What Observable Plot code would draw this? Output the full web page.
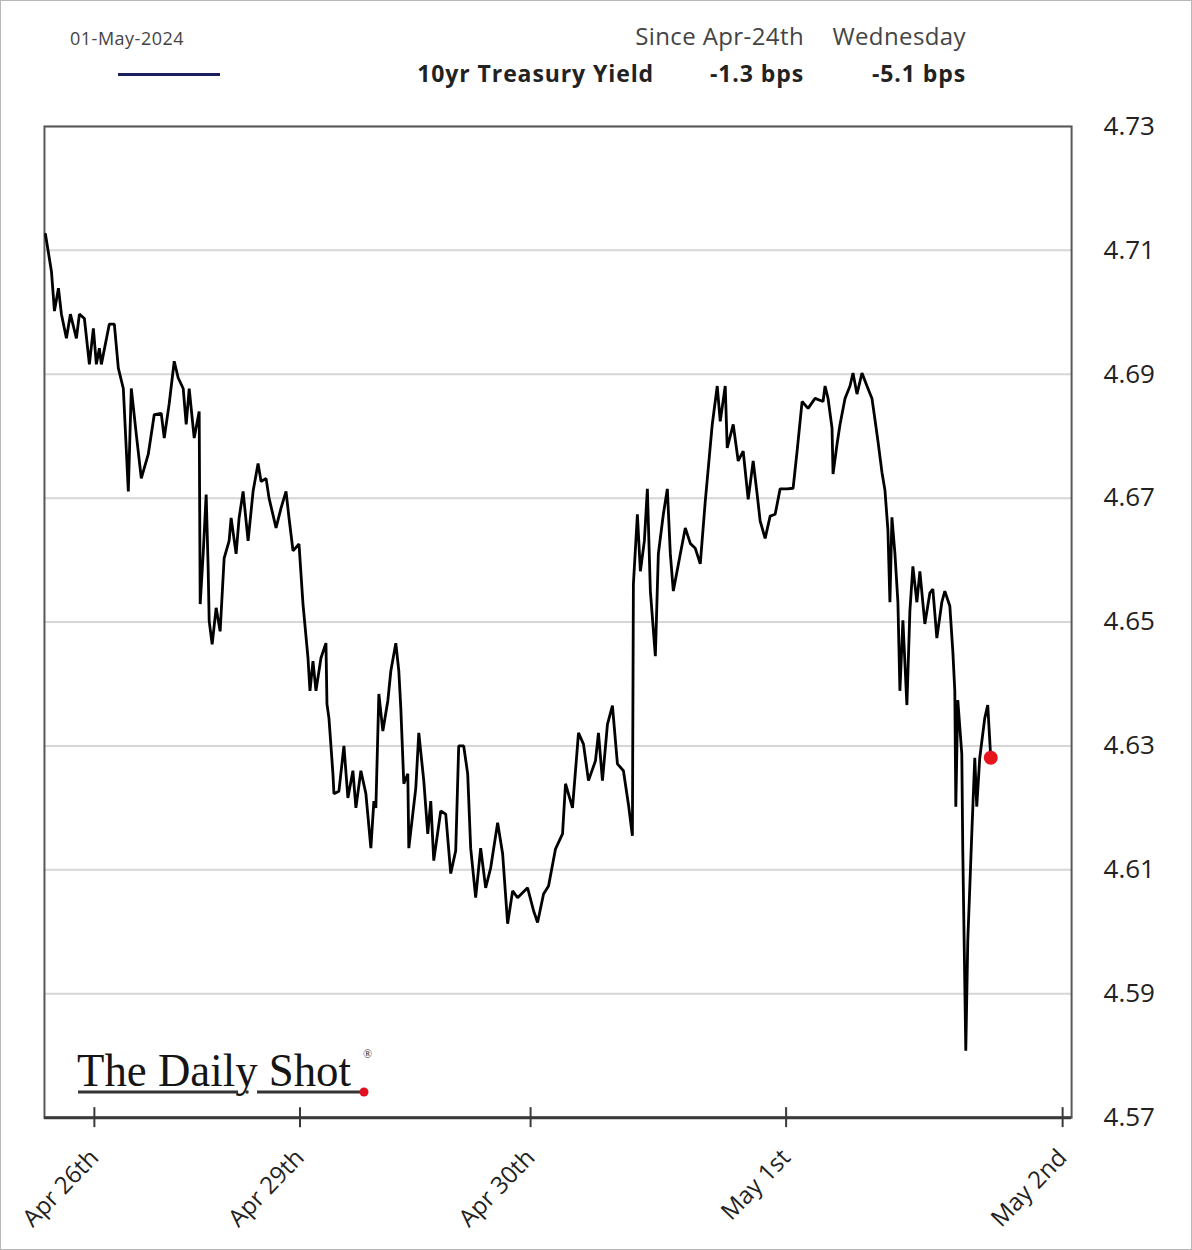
<!DOCTYPE html>
<html>
<head>
<meta charset="utf-8">
<script src="https://cdn.jsdelivr.net/npm/d3@7"></script>
<script src="https://cdn.jsdelivr.net/npm/@observablehq/plot@0.6"></script>
<style>
  html, body { margin: 0; padding: 0; background: #fff; }
  #wrap { position: relative; width: 1190px; height: 1248px; border: 1px solid #b8b8b8; overflow: hidden; font-family: "Open Sans", sans-serif; }
  .hd { position: absolute; white-space: nowrap; line-height: 30px; height: 30px; }
  #chart { position: absolute; left: -1px; top: 97px; }
  #logo { position: absolute; left: -1px; top: 999px; }
</style>
</head>
<body>
<div id="wrap">
  <div class="hd" style="left:69px; top:22px; font-size:18px; letter-spacing:0.5px; color:#444;">01-May-2024</div>
  <div style="position:absolute; left:117px; top:72px; width:102px; height:3px; background:#1c1f5e;"></div>
  <div class="hd" style="right:537px; top:57px; font-size:23px; letter-spacing:0.9px; font-weight:700; color:#222;">10yr Treasury Yield</div>
  <div class="hd" style="right:387px; top:20px; font-size:24px; letter-spacing:0.4px; color:#444;">Since Apr-24th</div>
  <div class="hd" style="right:225px; top:20px; font-size:24px; letter-spacing:0.4px; color:#444;">Wednesday</div>
  <div class="hd" style="right:387px; top:57px; font-size:23px; letter-spacing:0.9px; font-weight:700; color:#222;">-1.3 bps</div>
  <div class="hd" style="right:225px; top:57px; font-size:23px; letter-spacing:0.9px; font-weight:700; color:#222;">-5.1 bps</div>
  <div id="chart"></div>
  <svg id="logo" width="420" height="110">
    <text x="77" y="86" font-family="Liberation Serif, DejaVu Serif, serif" font-size="46" textLength="274" lengthAdjust="spacingAndGlyphs" fill="#151515">The Daily Shot</text>
    <text x="363" y="58" font-family="Liberation Serif, serif" font-size="12" fill="#333">®</text>
    <line x1="78" x2="238" y1="92" y2="92" stroke="#333" stroke-width="3"></line>
    <circle cx="247" cy="92" r="1.8" fill="#333"></circle>
    <line x1="257" x2="362" y1="92" y2="92" stroke="#333" stroke-width="3"></line>
    <circle cx="364" cy="92" r="4.5" fill="#e01020"></circle>
  </svg>
</div>
<script>
// Intraday 10yr Treasury yield, Apr 26th - May 1st 2024 (x = session time index)
const times = [0.1,0.7,1.0,1.4,1.7,2.2,2.6,3.2,3.5,4.0,
4.5,4.9,5.2,5.5,5.7,6.5,7.0,7.4,7.9,8.4,
8.7,9.2,9.7,10.4,11.0,11.7,12.0,12.5,13.0,13.4,
13.9,14.2,14.5,15.0,15.5,15.6,15.9,16.2,16.4,16.5,
16.8,17.2,17.6,18.0,18.5,18.7,19.2,19.5,19.9,20.4,
20.9,21.4,21.7,22.2,22.5,23.2,23.7,24.2,24.5,24.9,
25.5,25.9,26.4,26.6,26.9,27.2,27.7,28.2,28.3,28.5,
28.9,29.0,29.5,30.0,30.4,30.9,31.2,31.7,32.2,32.7,
33.0,33.2,33.5,33.9,34.4,34.7,35.2,35.5,35.7,36.0,
36.4,36.5,37.2,37.5,38.0,38.4,38.7,39.0,39.7,40.2,
40.7,41.2,41.5,42.0,42.4,42.7,43.2,43.7,44.2,44.7,
45.4,45.9,46.4,46.9,47.4,48.4,49.0,49.4,50.0,50.5,
51.2,51.9,52.2,52.9,53.2,53.5,54.0,54.5,55.2,55.5,
55.9,56.4,56.9,57.4,58.0,58.5,58.9,59.0,59.4,59.7,
60.1,60.4,60.7,61.2,61.5,62.0,62.4,62.7,63.0,63.7,
64.2,64.7,65.2,65.7,66.2,66.9,67.4,67.7,68.2,68.4,
69.0,69.5,70.0,70.5,71.0,71.4,71.7,72.2,72.7,73.2,
73.7,74.4,75.0,75.4,75.9,76.5,77.2,78.0,78.2,78.5,
78.9,79.0,79.4,79.7,80.2,80.7,81.0,81.4,81.9,82.4,
82.9,83.2,83.5,83.9,84.2,84.5,84.7,84.9,85.2,85.5,
85.7,86.0,86.4,86.7,87.0,87.4,87.7,88.2,88.7,89.0,
89.4,89.9,90.2,90.7,91.0,91.2,91.3,91.5,91.9,92.0,
92.3,92.5,92.7,92.9,93.2,93.4,93.7,94.2,94.5,94.8];

const yields = [4.7126,4.7066,4.7002,4.7039,4.6997,4.6958,4.6997,4.6958,4.6997,4.6990,
4.6916,4.6974,4.6916,4.6942,4.6916,4.6981,4.6981,4.6910,4.6877,4.6711,
4.6877,4.6803,4.6732,4.6771,4.6835,4.6837,4.6797,4.6853,4.6921,4.6894,
4.6877,4.6819,4.6877,4.6797,4.6840,4.6529,4.6610,4.6706,4.6587,4.6502,
4.6464,4.6523,4.6485,4.6603,4.6631,4.6668,4.6610,4.6668,4.6711,4.6631,
4.6711,4.6756,4.6727,4.6732,4.6700,4.6652,4.6684,4.6711,4.6668,4.6615,
4.6626,4.6529,4.6442,4.6389,4.6437,4.6389,4.6442,4.6466,4.6368,4.6345,
4.6255,4.6223,4.6227,4.6300,4.6216,4.6260,4.6200,4.6260,4.6223,4.6135,
4.6211,4.6200,4.6384,4.6324,4.6373,4.6421,4.6466,4.6421,4.6361,4.6239,
4.6255,4.6135,4.6232,4.6321,4.6244,4.6158,4.6211,4.6115,4.6195,4.6190,
4.6094,4.6131,4.6300,4.6300,4.6255,4.6135,4.6055,4.6135,4.6071,4.6103,
4.6176,4.6126,4.6013,4.6066,4.6055,4.6071,4.6034,4.6015,4.6061,4.6074,
4.6134,4.6158,4.6239,4.6200,4.6260,4.6321,4.6303,4.6244,4.6276,4.6321,
4.6244,4.6335,4.6365,4.6271,4.6260,4.6206,4.6155,4.6561,4.6674,4.6582,
4.6631,4.6715,4.6550,4.6445,4.6610,4.6674,4.6715,4.6610,4.6550,4.6610,
4.6652,4.6627,4.6619,4.6594,4.6695,4.6819,4.6881,4.6824,4.6881,4.6781,
4.6819,4.6760,4.6776,4.6698,4.6760,4.6706,4.6663,4.6635,4.6671,4.6674,
4.6715,4.6715,4.6716,4.6776,4.6856,4.6845,4.6861,4.6856,4.6881,4.6861,
4.6813,4.6739,4.6787,4.6819,4.6861,4.6881,4.6902,4.6868,4.6902,4.6881,
4.6861,4.6827,4.6792,4.6742,4.6713,4.6648,4.6532,4.6669,4.6611,4.6532,
4.6389,4.6503,4.6366,4.6518,4.6590,4.6532,4.6582,4.6497,4.6547,4.6553,
4.6474,4.6532,4.6550,4.6526,4.6453,4.6389,4.6202,4.6374,4.6287,4.6129,
4.5808,4.5986,4.6071,4.6158,4.6281,4.6202,4.6281,4.6345,4.6366,4.6281];

const xTickValues = [5.0, 25.6, 48.7, 74.3, 102.0];
const xTickLabels = ["Apr 26th", "Apr 29th", "Apr 30th", "May 1st", "May 2nd"];
const yTickValues = [4.57, 4.59, 4.61, 4.63, 4.65, 4.67, 4.69, 4.71, 4.73];

const n = Math.min(times.length, yields.length);
const data = d3.range(n).map(i => ({t: times[i], v: yields[i]}));
const last = [data[n - 1]];
const labelOf = new Map(xTickValues.map((v, i) => [v, xTickLabels[i]]));

const chart = Plot.plot({
  width: 1192,
  height: 1153,
  marginTop: 28,
  marginLeft: 44,
  marginRight: 120,
  marginBottom: 133,
  style: {fontFamily: "'Open Sans', sans-serif", color: "#222", background: "transparent"},
  x: {type: "linear", domain: [0, 102.9]},
  y: {domain: [4.57, 4.73]},
  marks: [
    Plot.gridY(yTickValues, {stroke: "#d6d6d6", strokeOpacity: 1, strokeWidth: 2}),
    Plot.frame({stroke: "#585858", strokeWidth: 2}),
    Plot.ruleY([4.57], {stroke: "#3a3a3a", strokeWidth: 3}),
    Plot.ruleX(xTickValues, {y1: 4.57, y2: 4.57, insetTop: -10, insetBottom: -10, stroke: "#3a3a3a", strokeWidth: 2}),
    Plot.axisY(yTickValues, {anchor: "right", tickSize: 0, tickPadding: 32, fontSize: 26, tickFormat: d3.format(".2f"), label: null, fill: "#222"}),
    Plot.axisX(xTickValues, {anchor: "bottom", tickSize: 0, tickPadding: 36, tickRotate: -46, fontSize: 24, tickFormat: d => labelOf.get(d), label: null, fill: "#222"}),
    Plot.line(data, {x: "t", y: "v", stroke: "#000", strokeWidth: 2.8, strokeLinejoin: "miter", curve: "linear"}),
    Plot.dot(last, {x: "t", y: "v", r: 7, fill: "#e8141c", stroke: "none"})
  ]
});
document.getElementById("chart").appendChild(chart);
</script>
</body>
</html>
